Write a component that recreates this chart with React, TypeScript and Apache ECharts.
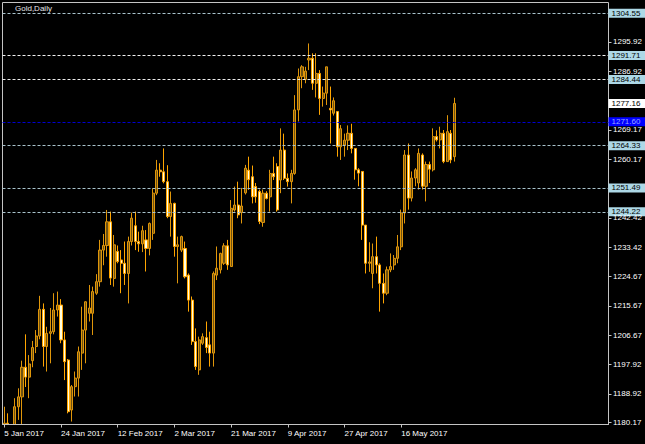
import React, { useEffect, useRef } from "react";
import * as echarts from "echarts";

const FONT = "'Liberation Sans', Arial, sans-serif";

// trading days (broker has Sunday bars)
const janDays = [5, 6, 8, 9, 10, 11, 12, 13, 15, 16, 17, 18, 19, 20, 22, 23, 24, 25, 26, 27, 29, 30, 31];
const febDays = [1, 2, 3, 5, 6, 7, 8, 9, 10, 12, 13, 14, 15, 16, 17, 19, 20, 21, 22, 23, 24, 26, 27, 28];
const marDays = [1, 2, 3, 5, 6, 7, 8, 9, 10, 12, 13, 14, 15, 16, 17, 19, 20, 21, 22, 23, 24, 26, 27, 28, 29, 30, 31];
const aprDays = [2, 3, 4, 5, 6, 7, 9, 10, 11, 12, 13, 14, 16, 17, 18, 19, 20, 21, 23, 24, 25, 26, 27, 28, 30];
const mayDays = [1, 2, 3, 4, 5, 7, 8, 9, 10, 11, 12, 14, 15, 16, 17, 18, 19, 21, 22, 23, 24, 25, 26, 28, 29, 30, 31];
const junDays = [1, 2];

const monthNames = ["Jan", "Feb", "Mar", "Apr", "May", "Jun"];
const monthDays = [janDays, febDays, marDays, aprDays, mayDays, junDays];

const tickLabels = ["5 Jan 2017", "24 Jan 2017", "12 Feb 2017", "2 Mar 2017", "21 Mar 2017", "9 Apr 2017", "27 Apr 2017", "16 May 2017"];

const open = [
  1165, 1180, 1173, 1174, 1185, 1188, 1197, 1194, 1199, 1203.3, 1206.5, 1214.6, 1203.3, 1207.3, 1207.8, 1214.4,
  1215.9, 1205.3, 1199.2, 1184, 1191.1, 1193.7, 1201.3, 1208.3, 1213.4, 1213.4, 1219.5, 1223, 1232.6, 1234, 1241.2, 1224,
  1232.2, 1229.6, 1228.6, 1225.5, 1235.2, 1240, 1235.2, 1234.5, 1235.7, 1233.1, 1237.7, 1249.9, 1256.9, 1256.4, 1253.4, 1242.8,
  1246.8, 1233.7, 1232.6, 1233.1, 1225, 1217.4, 1204.8, 1196.2, 1204.3, 1206, 1203.8, 1201.3, 1225, 1226.6, 1228.6, 1233.9,
  1227.6, 1244.8, 1246.3, 1244, 1250, 1256.9, 1254.9, 1251.9, 1250.4, 1241, 1249.9, 1248.8, 1255.9, 1258, 1253.9, 1263,
  1254.4, 1253.4, 1255.9, 1275.2, 1285.3, 1284.5, 1290.4, 1290.9, 1283.3, 1286.3, 1278.7, 1280.3, 1275.7, 1274.2, 1274.7, 1264,
  1264.5, 1266, 1268.1, 1263.5, 1257, 1256.5, 1240.2, 1228.6, 1225.5, 1230.6, 1228.1, 1222.5, 1219.5, 1226.6, 1228.1, 1230.1,
  1233.6, 1243.9, 1261.5, 1248.4, 1254.5, 1253, 1261.5, 1252, 1258.6, 1257, 1267.1, 1266.1, 1268.1, 1259.5, 1268.1, 1261,
];
const high = [
  1185, 1183, 1175, 1187.6, 1190.6, 1199, 1207, 1200.7, 1205, 1208.3, 1218.7, 1216.4, 1209.3, 1215, 1219.5, 1220,
  1217.7, 1207.8, 1199.5, 1191.6, 1195.7, 1203.3, 1215.4, 1217, 1222, 1221.5, 1225.3, 1235.7, 1237.5, 1244.8, 1244.3, 1237.2,
  1234, 1232.6, 1235.2, 1236.7, 1244, 1244.3, 1238.2, 1240, 1238.7, 1241, 1251.4, 1260, 1259, 1263.5, 1258.4, 1250.4,
  1247, 1236.7, 1237, 1235.2, 1225.5, 1218.5, 1208.8, 1206.3, 1207.3, 1210.9, 1207.8, 1226.1, 1233.7, 1231.8, 1234.7, 1235.7,
  1247.8, 1251.9, 1253.4, 1251.5, 1258.5, 1261, 1258.3, 1253, 1251, 1251, 1250.5, 1257, 1261, 1259, 1269.6, 1268,
  1255.9, 1257, 1279.7, 1287.8, 1288.8, 1288.3, 1295.4, 1292.4, 1292.4, 1287.3, 1282.3, 1288.3, 1282.3, 1279, 1274.7, 1270.6,
  1268, 1270.5, 1271, 1263.5, 1257.5, 1256.5, 1240.2, 1235, 1234.6, 1236.7, 1228.6, 1225.5, 1227.6, 1231.6, 1231.1, 1237.2,
  1244.9, 1263, 1265, 1256.5, 1257.5, 1263.5, 1262, 1259.5, 1259.5, 1269.6, 1269, 1270.1, 1269.1, 1273.6, 1269.1, 1278.9,
];
const low = [
  1163, 1167, 1171, 1172, 1181, 1173, 1191, 1187.6, 1197, 1201.3, 1205.5, 1197.2, 1195.7, 1198.2, 1207, 1212.4,
  1204.3, 1193.1, 1183, 1180.5, 1188.1, 1188.1, 1196.2, 1198.2, 1210.9, 1206.8, 1219, 1221.5, 1228, 1230.6, 1222, 1221.5,
  1228.6, 1219.5, 1222, 1216.4, 1234, 1232.6, 1232.1, 1232, 1226.1, 1231, 1235.7, 1249.3, 1254.9, 1252.9, 1242.3, 1236.7,
  1230.6, 1222.5, 1232, 1224, 1213.9, 1203.8, 1196.2, 1194.7, 1203.8, 1201.3, 1197.2, 1197.2, 1223.5, 1225.5, 1228.1, 1226.6,
  1227.6, 1244.3, 1242.3, 1240.7, 1249.5, 1250.9, 1246.8, 1247, 1240.5, 1239.7, 1248, 1244.3, 1253.9, 1244.3, 1249.9, 1253.9,
  1251.9, 1246.8, 1255.5, 1271.7, 1281.8, 1283.3, 1287.3, 1281.3, 1279, 1273.7, 1276.2, 1276.7, 1265, 1273.5, 1261, 1260,
  1261, 1263, 1262, 1254, 1252, 1235.7, 1225.5, 1226, 1221, 1225.5, 1213.9, 1216.4, 1218.9, 1225.9, 1226.6, 1228.6,
  1232.6, 1240.7, 1244.9, 1247.4, 1252, 1251, 1251, 1247.4, 1253, 1256.5, 1265.6, 1263.5, 1259, 1259.5, 1259, 1259.5,
];
const close = [
  1180, 1173, 1174, 1185, 1188, 1197, 1194, 1198, 1203, 1206.5, 1214.6, 1203.3, 1207.3, 1207.8, 1214.4, 1215.9,
  1205.3, 1198.7, 1183.5, 1191.1, 1193.7, 1201.7, 1208.3, 1216.9, 1215, 1220, 1223, 1232.6, 1234, 1241.2, 1224.1, 1234.2,
  1229.1, 1228.6, 1225.5, 1235.2, 1242.3, 1235.2, 1234.5, 1238.5, 1233.1, 1240.7, 1249.9, 1256.9, 1256.4, 1253.4, 1242.8, 1246.8,
  1233.7, 1234.2, 1236.7, 1224.5, 1217.4, 1204.8, 1197.2, 1205.3, 1206.3, 1203, 1201.3, 1225.5, 1227.1, 1231.6, 1233.9, 1228.1,
  1245.3, 1246.3, 1243.3, 1246, 1257.5, 1254, 1248.8, 1248.8, 1241.3, 1249.9, 1248.3, 1255.9, 1254.9, 1244.8, 1263, 1254.4,
  1253.4, 1255.9, 1275.2, 1285.3, 1288.3, 1287, 1290.9, 1283.3, 1286.3, 1278.7, 1280.3, 1288.3, 1275.2, 1278, 1264, 1269.5,
  1266, 1268.1, 1263.5, 1257, 1256, 1240.2, 1228.6, 1229, 1230.6, 1228.1, 1222.5, 1219.5, 1226.6, 1227.6, 1230.1, 1233.6,
  1243.9, 1261.5, 1248.4, 1254.5, 1257, 1262, 1252, 1258.6, 1257.2, 1267.1, 1266.1, 1268.1, 1259.5, 1268.6, 1260, 1277.16,
];

const yTickValues = [1295.92, 1286.92, 1269.17, 1260.17, 1242.42, 1233.42, 1224.67, 1215.67, 1206.67, 1197.92, 1188.92, 1180.17];

const levelValues = [1304.55, 1291.71, 1284.44, 1271.6, 1264.33, 1251.49, 1244.22];
const levelLineColors = ["#a9c3cc", "#f2f2f2", "#ececec", "#0000d0", "#a9c3cc", "#a9c3cc", "#a9c3cc"];
const levelBoxColors = ["#add8e6", "#add8e6", "#add8e6", "#0000ff", "#add8e6", "#add8e6", "#add8e6"];
const levelTextColors = ["#000000", "#000000", "#000000", "#9aa4ff", "#000000", "#000000", "#000000"];
const currentPrice = 1277.16;

const PAD_SLOTS = 43;

export default function App() {
  const ref = useRef<HTMLDivElement>(null);

  useEffect(() => {
    const dates: string[] = [];
    monthDays.forEach((days, m) => {
      days.forEach((d) => dates.push(`${d} ${monthNames[m]} 2017`));
    });
    const tickIndex = tickLabels.map((t) => dates.indexOf(t));
    const categories = dates.concat(new Array(PAD_SLOTS).fill(""));
    const ohlc = open.map((o, i) => [o, close[i], low[i], high[i]]);

    const boxLabel = (text: string, bg: string, color: string) => ({
      show: true,
      position: "end",
      distance: 0,
      formatter: text,
      color,
      backgroundColor: bg,
      padding: [1, 5, 0, 3],
      fontSize: 8,
      lineHeight: 8,
      fontFamily: FONT,
    });

    const markData: any[] = levelValues.map((v, i) => ({
      yAxis: v,
      lineStyle: { color: levelLineColors[i], type: [3, 2], width: 1 },
      label: boxLabel(v.toFixed(2), levelBoxColors[i], levelTextColors[i]),
    }));
    markData.push({
      yAxis: currentPrice,
      lineStyle: { color: "rgba(0,0,0,0)", width: 1, type: "solid" },
      label: boxLabel(currentPrice.toFixed(2), "#ffffff", "#000000"),
    });

    const chart = echarts.init(ref.current!, undefined, { renderer: "svg" });
    chart.setOption({
      animation: false,
      backgroundColor: "#000000",
      title: {
        text: "Gold,Daily",
        left: 15,
        top: 4,
        padding: 0,
        textStyle: { color: "#e6e6e6", fontSize: 8, fontWeight: "normal", fontFamily: FONT },
      },
      // mask for the part of candles that runs below the price scale
      graphic: [
        {
          type: "rect",
          z: 5,
          silent: true,
          shape: { x: 0, y: 425, width: 608, height: 19 },
          style: { fill: "#000000" },
        },
      ],
      grid: {
        left: 2.5,
        right: 36.5,
        top: 2.5,
        bottom: 19.5,
        show: true,
        borderColor: "#c4c4c4",
        borderWidth: 1,
        backgroundColor: "#000000",
        containLabel: false,
        outerBoundsMode: "none",
      },
      xAxis: {
        type: "category",
        z: 10,
        data: categories,
        boundaryGap: true,
        axisLine: { show: true, lineStyle: { color: "#c4c4c4", width: 1 } },
        axisTick: {
          show: true,
          alignWithLabel: true,
          length: 3,
          interval: (idx: number) => tickIndex.includes(idx),
          lineStyle: { color: "#c4c4c4" },
        },
        axisLabel: {
          show: true,
          interval: (idx: number) => tickIndex.includes(idx),
          formatter: (_v: string, idx: number) => {
            const k = tickIndex.indexOf(idx);
            return k >= 0 ? tickLabels[k] : "";
          },
          align: "left",
          verticalAlign: "top",
          margin: 5,
          color: "#ffffff",
          fontSize: 8,
          fontFamily: FONT,
        },
        splitLine: { show: false },
      },
      yAxis: {
        type: "value",
        position: "right",
        z: 10,
        min: 1179.6,
        max: 1307.85,
        scale: true,
        axisLine: { show: false },
        splitLine: { show: false },
        axisTick: {
          show: true,
          length: 3,
          customValues: yTickValues,
          lineStyle: { color: "#c4c4c4" },
        },
        axisLabel: {
          show: true,
          customValues: yTickValues,
          formatter: (v: number) => v.toFixed(2),
          margin: 4.5,
          color: "#ffffff",
          fontSize: 8,
          fontFamily: FONT,
        },
      },
      series: [
        {
          type: "candlestick",
          data: ohlc,
          barWidth: 2.6,
          clip: true,
          itemStyle: {
            color: "#6e5212",
            color0: "#ffffe0",
            borderColor: "#e0960a",
            borderColor0: "#ffa500",
            borderWidth: 1,
          },
          markLine: {
            symbol: ["none", "none"],
            silent: true,
            animation: false,
            data: markData,
          },
        },
      ],
    });
    return () => chart.dispose();
  }, []);

  return (
    <div
      ref={ref}
      style={{ position: "fixed", left: 0, top: 0, width: 645, height: 444, background: "#000" }}
    />
  );
}
